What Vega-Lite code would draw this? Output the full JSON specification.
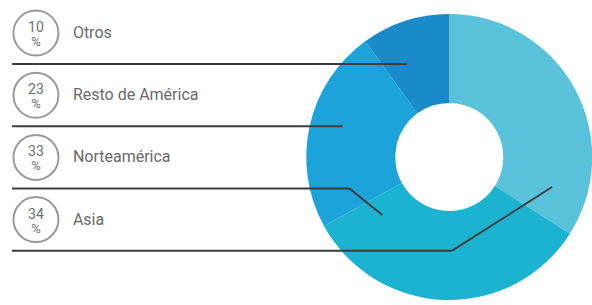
{
  "$schema": "https://vega.github.io/schema/vega-lite/v6.json",
  "width": 592,
  "height": 305,
  "autosize": {"type": "fit", "contains": "padding"},
  "padding": 0,
  "background": "white",
  "config": {"view": {"stroke": null}},
  "datasets": {
    "shares": [
      {"region": "Asia", "pct": 34, "order": 1, "row": 4},
      {"region": "Norteamérica", "pct": 33, "order": 2, "row": 3},
      {"region": "Resto de América", "pct": 23, "order": 3, "row": 2},
      {"region": "Otros", "pct": 10, "order": 4, "row": 1}
    ],
    "leaders": [
      {"region": "Otros", "x": 12, "y": 1.5, "x2": 408, "y2": 1.5},
      {"region": "Resto de América", "x": 12, "y": 2.5, "x2": 343, "y2": 2.5},
      {"region": "Norteamérica", "x": 12, "y": 3.5, "x2": 350, "y2": 3.5},
      {"region": "Norteamérica", "x": 350, "y": 3.5, "x2": 383, "y2": 3.926},
      {"region": "Asia", "x": 12, "y": 4.5, "x2": 453, "y2": 4.5},
      {"region": "Asia", "x": 453, "y": 4.5, "x2": 553, "y2": 3.476}
    ]
  },
  "layer": [
    {
      "data": {"name": "shares"},
      "mark": {"type": "arc", "outerRadius": 143, "innerRadius": 54},
      "encoding": {
        "theta": {"field": "pct", "type": "quantitative", "stack": true},
        "order": {"field": "order", "type": "quantitative", "sort": "ascending"},
        "color": {
          "field": "region", "type": "nominal", "legend": null,
          "scale": {"domain": ["Asia", "Norteamérica", "Resto de América", "Otros"],
                    "range": ["#5bc2dc", "#1bb3cf", "#1ba3da", "#1b8acb"]}
        },
        "x": {"datum": 450, "type": "quantitative", "axis": null,
              "scale": {"domain": [0, 592], "nice": false, "zero": false}},
        "y": {"datum": 2.994, "type": "quantitative", "axis": null,
              "scale": {"domain": [0.4695, 5.373], "reverse": true, "nice": false, "zero": false}}
      }
    },
    {
      "data": {"name": "leaders"},
      "mark": {"type": "rule", "color": "#3d3d3d", "strokeWidth": 2},
      "encoding": {
        "x": {"field": "x", "type": "quantitative", "axis": null,
              "scale": {"domain": [0, 592], "nice": false, "zero": false}},
        "x2": {"field": "x2"},
        "y": {"field": "y", "type": "quantitative", "axis": null,
              "scale": {"domain": [0.4695, 5.373], "reverse": true, "nice": false, "zero": false}},
        "y2": {"field": "y2"}
      }
    },
    {
      "data": {"name": "shares"},
      "mark": {"type": "point", "shape": "circle", "size": 2025, "filled": false, "stroke": "#9a9a9a", "strokeWidth": 2, "opacity": 1},
      "encoding": {
        "x": {"datum": 36, "type": "quantitative"},
        "y": {"field": "row", "type": "quantitative"}
      }
    },
    {
      "data": {"name": "shares"},
      "mark": {"type": "text", "dy": -5, "fontSize": 14, "color": "#707070", "font": "Roboto, sans-serif", "align": "center", "baseline": "middle"},
      "encoding": {
        "x": {"datum": 36, "type": "quantitative"},
        "y": {"field": "row", "type": "quantitative"},
        "text": {"field": "pct", "type": "quantitative"}
      }
    },
    {
      "data": {"name": "shares"},
      "mark": {"type": "text", "text": "%", "dy": 9, "fontSize": 13, "color": "#707070", "font": "Roboto, sans-serif", "align": "center", "baseline": "middle"},
      "encoding": {
        "x": {"datum": 36, "type": "quantitative"},
        "y": {"field": "row", "type": "quantitative"}
      }
    },
    {
      "data": {"name": "shares"},
      "mark": {"type": "text", "fontSize": 16, "color": "#6a6a6a", "font": "Roboto, sans-serif", "align": "left", "baseline": "middle"},
      "encoding": {
        "x": {"datum": 73, "type": "quantitative"},
        "y": {"field": "row", "type": "quantitative"},
        "text": {"field": "region", "type": "nominal"}
      }
    }
  ]
}
